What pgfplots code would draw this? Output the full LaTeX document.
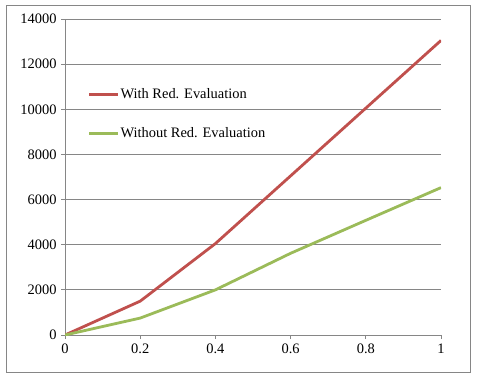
\documentclass[border=0pt]{standalone}
\usepackage{fontspec}
\setmainfont{Liberation Serif}
\usepackage{pgfplots}
\pgfplotsset{compat=1.18}
\definecolor{exred}{HTML}{C0504D}
\definecolor{exgreen}{HTML}{9BBB59}
\definecolor{exgray}{HTML}{868686}
\begin{document}
\begin{tikzpicture}[x=1bp,y=1bp]
\useasboundingbox (-65,-44) rectangle (413,335);
\draw[exgray, line width=0.8bp] (-59,-37) rectangle (405,330);
\begin{axis}[
  at={(0,0)}, anchor=origin,
  scale only axis, width=376bp, height=316bp,
  xmin=0, xmax=1, ymin=0, ymax=14000,
  xtick={0,0.2,0.4,0.6,0.8,1},
  ytick={0,2000,4000,6000,8000,10000,12000,14000},
  scaled ticks=false,
  axis x line=bottom, axis y line=left,
  axis line style={-, exgray, line width=0.8bp},
  tick style={exgray, line width=0.8bp},
  tick align=outside, major tick length=4bp,
  ymajorgrids, grid style={exgray, line width=0.8bp},
  tick label style={font=\fontsize{14.5}{16}\selectfont},
  /pgf/number format/assume math mode=true,
  /pgf/number format/set thousands separator={},
  xticklabel style={/pgf/number format/fixed, yshift=-1bp},
  yticklabel style={xshift=-1bp},
  legend style={at={(axis description cs:0.06,0.784)}, anchor=north west,
    draw=none, fill=none, font=\fontsize{14.5}{16}\selectfont,
    row sep=26bp, inner sep=0pt, nodes={inner sep=1pt}},
  legend cell align=left,
  legend image code/.code={\draw[#1] (0bp,0bp) -- (29bp,0bp);},
]
\addplot[exred, line width=2.8bp] coordinates {(0,0) (0.2,1500) (0.4,4050) (0.6,7050) (0.8,10050) (1,13050)};
\addlegendentry{With Red. Evaluation}
\addplot[exgreen, line width=2.8bp] coordinates {(0,0) (0.2,750) (0.4,2000) (0.6,3620) (0.8,5080) (1,6530)};
\addlegendentry{Without Red. Evaluation}
\end{axis}
\end{tikzpicture}
\end{document}
